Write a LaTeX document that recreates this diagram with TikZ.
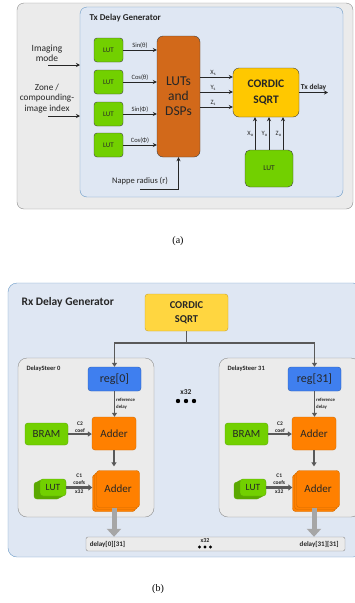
\documentclass[tikz,border=0pt]{standalone}
\usepackage{fontspec}
\setmainfont{Carlito}
\newfontfamily\capfont{Liberation Serif}
\usetikzlibrary{arrows, arrows.meta, shadows}

\definecolor{panelgray}{HTML}{EBEBEB}
\definecolor{edgegray}{HTML}{8C8C8C}
\definecolor{bluepanel}{HTML}{DFE7F3}
\definecolor{blueline}{HTML}{6A9AC6}
\definecolor{lutgreen}{HTML}{72D000}
\definecolor{lutdark}{HTML}{5AA800}
\definecolor{dspbrown}{HTML}{D2691A}
\definecolor{cordicyellow}{HTML}{FFC800}
\definecolor{cordiclight}{HTML}{FFD640}
\definecolor{cordicedge}{HTML}{C9A227}
\definecolor{regblue}{HTML}{3F7FEF}
\definecolor{regedge}{HTML}{2A5DB0}
\definecolor{addorange}{HTML}{FF8000}
\definecolor{addedge}{HTML}{D06A00}
\definecolor{arrgray}{HTML}{595959}

\begin{document}
\begin{tikzpicture}[x=1pt, y=-1pt,
    box/.style={draw=black!75, rounded corners=3pt, align=center, inner sep=0pt, text=black!85},
    lutbox/.style={box, fill=lutgreen, minimum width=29pt, minimum height=24pt, font=\fontsize{7}{8}\selectfont},
    lbl/.style={font=\fontsize{6.5}{7}\selectfont, text=black!85, inner sep=1pt},
    arr/.style={draw=black!85, line width=0.7pt, -{Stealth[length=4pt,width=4pt]}},
    blk/.style={rounded corners=3pt, align=center, inner sep=0pt, text=black!85},
    regbox/.style={blk, fill=regblue, draw=regedge, minimum width=53pt, minimum height=24pt, font=\fontsize{12}{13}\selectfont},
    addbox/.style={blk, fill=addorange, draw=addedge, minimum width=44pt, minimum height=33pt, font=\fontsize{11}{12}\selectfont},
    brambox/.style={blk, fill=lutgreen, draw=lutdark, minimum width=43pt, minimum height=22pt, font=\fontsize{11}{12}\selectfont},
    tiny/.style={font=\bfseries\fontsize{5.5}{7}\selectfont, text=black!85, align=center, inner sep=1pt},
    garr/.style={draw=arrgray, line width=1.4pt, -{Triangle[length=4pt,width=5pt]}},
    fatarr/.style={draw=arrgray, line width=3pt, -{Triangle[length=4pt,width=6pt]}},
    bigarr/.style={draw=black!35, line width=5pt, -{Triangle[length=8pt,width=14pt]}}]
\useasboundingbox (0,0) rectangle (355,603);

% (a) Tx delay generator
\draw[draw=edgegray, fill=panelgray, rounded corners=7pt] (17,3) rectangle (353,209);
\draw[draw=blueline, fill=bluepanel, rounded corners=7pt] (80,7) rectangle (343,197);
\node[anchor=west, font=\bfseries\fontsize{9}{10}\selectfont, text=black!85] (txtitle) at (86,18) {Tx Delay Generator};

\node[lutbox] (lut1) at (108.5,50) {LUT};
\node[lutbox] (lut2) at (108.5,82) {LUT};
\node[lutbox] (lut3) at (108.5,114) {LUT};
\node[lutbox] (lut4) at (108.5,145) {LUT};
\node[box, fill=dspbrown, minimum width=43pt, minimum height=121pt, rounded corners=6pt, font=\fontsize{13.5}{15}\selectfont] (dsp) at (178.5,96.5) {LUTs\\and\\DSPs};
\node[box, fill=cordicyellow, minimum width=66pt, minimum height=49pt, rounded corners=6pt, font=\bfseries\fontsize{11.5}{16.5}\selectfont] (cordic) at (266,92.5) {CORDIC\\SQRT};
\node[box, fill=lutgreen, minimum width=48pt, minimum height=37pt, rounded corners=5pt, font=\fontsize{7.5}{8}\selectfont] (lutb) at (269,168.5) {LUT};

\draw[arr] (lut1.east) -- (lut1.east -| dsp.west) node[midway, above, lbl] {Sin(θ)};
\draw[arr] (lut2.east) -- (lut2.east -| dsp.west) node[midway, above, lbl] {Cos(θ)};
\draw[arr] (lut3.east) -- (lut3.east -| dsp.west) node[midway, above, lbl] {Sin(Φ)};
\draw[arr] (lut4.east) -- (lut4.east -| dsp.west) node[midway, above, lbl] {Cos(Φ)};

\draw[arr] ([yshift=19.5pt]dsp.east) -- ([yshift=19.5pt]dsp.east -| cordic.west) node[pos=0.4, above, lbl] {X\textsubscript{s}};
\draw[arr] ([yshift=4.5pt]dsp.east) -- ([yshift=4.5pt]dsp.east -| cordic.west) node[pos=0.4, above, lbl] {Y\textsubscript{s}};
\draw[arr] ([yshift=-10.5pt]dsp.east) -- ([yshift=-10.5pt]dsp.east -| cordic.west) node[pos=0.4, above, lbl] {Z\textsubscript{s}};

\coordinate (txout) at (328,92.5);
\draw[arr] (cordic.east) -- (txout) node[midway, above, font=\bfseries\fontsize{7.5}{8}\selectfont, text=black!85, inner sep=1.5pt] {Tx delay};

\draw[arr] ([xshift=-14pt]lutb.north) -- ([xshift=-14pt]lutb.north |- cordic.south) node[midway, left, lbl] {X\textsubscript{o}};
\draw[arr] (lutb.north) -- (lutb.north |- cordic.south) node[midway, left, lbl] {Y\textsubscript{o}};
\draw[arr] ([xshift=14pt]lutb.north) -- ([xshift=14pt]lutb.north |- cordic.south) node[midway, left, lbl] {Z\textsubscript{o}};

\node[align=center, font=\fontsize{9.5}{10}\selectfont, text=black!85] (imgmode) at (47,53) {Imaging\\mode};
\coordinate (modein) at (48,65);
\draw[arr] (modein) -- ++(32,0);
\node[align=center, font=\fontsize{9.2}{10.5}\selectfont, text=black!85] (zone) at (47,98.5) {Zone /\\compounding-\\image index};
\coordinate (zonein) at (48,116);
\draw[arr] (zonein) -- ++(32,0);
\node[font=\fontsize{8.5}{9}\selectfont, text=black!85] (nappe) at (140,181) {Nappe radius (r)};
\coordinate (nappein) at (140,189);
\draw[arr] (nappein) -| (dsp.south);

\node[font=\capfont\fontsize{10}{12}\selectfont] (capa) at (178,241) {(a)};

% (b) Rx delay generator
\draw[draw=blueline, fill=bluepanel, rounded corners=9pt] (8,283) rectangle (362,557);
\node[anchor=west, font=\bfseries\fontsize{11.5}{13}\selectfont, text=black!85] (rxtitle) at (18,302) {Rx Delay Generator};
\node[blk, fill=cordiclight, draw=cordicedge, minimum width=83pt, minimum height=37pt, font=\bfseries\fontsize{10.5}{14}\selectfont] (cordic2) at (186.5,312.5) {CORDIC\\SQRT};

\draw[draw=edgegray, fill=panelgray, rounded corners=9pt] (18,358) rectangle (154,517);
\node[anchor=west, font=\bfseries\fontsize{6.5}{7}\selectfont, text=black!85] (ds0lbl) at (23,369) {DelaySteer 0};
\draw[draw=edgegray, fill=panelgray, rounded corners=9pt] (219,358) rectangle (360,517);
\node[anchor=west, font=\bfseries\fontsize{6.5}{7}\selectfont, text=black!85] (ds31lbl) at (224,369) {DelaySteer 31};

\node[regbox] (reg0) at (114.5,379) {reg[0]};
\node[addbox] (addA0) at (114,433.5) {Adder};
\node[brambox] (bram0) at (46.5,434) {BRAM};
\node[addbox, minimum width=43pt, minimum height=37pt, double copy shadow={shadow xshift=-2pt, shadow yshift=-2pt}] (addB0) at (118,489) {Adder};
\node[blk, fill=lutgreen, draw=lutdark, minimum width=26pt, minimum height=17pt, font=\fontsize{9.5}{10}\selectfont, double copy shadow={shadow xshift=-3pt, shadow yshift=-1.5pt, fill=lutdark}] (lutc0) at (53,487.5) {LUT};

\node[regbox] (reg31) at (314.5,379) {reg[31]};
\node[addbox] (addA31) at (314,433.5) {Adder};
\node[brambox] (bram31) at (246.5,434) {BRAM};
\node[addbox, minimum width=43pt, minimum height=37pt, double copy shadow={shadow xshift=-2pt, shadow yshift=-2pt}] (addB31) at (318,489) {Adder};
\node[blk, fill=lutgreen, draw=lutdark, minimum width=26pt, minimum height=17pt, font=\fontsize{9.5}{10}\selectfont, double copy shadow={shadow xshift=-3pt, shadow yshift=-1.5pt, fill=lutdark}] (lutc31) at (253,487.5) {LUT};

\coordinate (split) at (186.5,343);
\draw[draw=arrgray, line width=1.4pt] (cordic2.south) -- (split);
\draw[garr] (split) -| (reg0.north);
\draw[garr] (split) -| (reg31.north);

\draw[garr] (reg0.south) -- (reg0.south |- addA0.north) node[midway, right, tiny, align=left, font=\bfseries\fontsize{4.8}{7}\selectfont] {reference\\delay};
\draw[garr] (bram0.east) -- (bram0.east -| addA0.west) node[midway, above, tiny] {C2\\coef};
\draw[garr] (addA0.south) -- ([yshift=4pt]addA0.south |- addB0.north);
\draw[fatarr] (lutc0.east) -- ([xshift=-4pt]lutc0.east -| addB0.west) node[midway, above, tiny] {C1\\coefs} node[midway, below, tiny] {x32};

\draw[garr] (reg31.south) -- (reg31.south |- addA31.north) node[midway, right, tiny, align=left, font=\bfseries\fontsize{4.8}{7}\selectfont] {reference\\delay};
\draw[garr] (bram31.east) -- (bram31.east -| addA31.west) node[midway, above, tiny] {C2\\coef};
\draw[garr] (addA31.south) -- ([yshift=4pt]addA31.south |- addB31.north);
\draw[fatarr] (lutc31.east) -- ([xshift=-4pt]lutc31.east -| addB31.west) node[midway, above, tiny] {C1\\coefs} node[midway, below, tiny] {x32};

\node[font=\bfseries\fontsize{7.5}{8}\selectfont, text=black!85] (mid32) at (186,392) {x32};
\fill (178,401) circle (2.2pt) (186,401) circle (2.2pt) (194,401) circle (2.2pt);

\node[blk, fill=panelgray, draw=edgegray, rounded corners=2pt, minimum width=259pt, minimum height=14pt] (bar) at (215.5,544) {};
\node[anchor=west, font=\bfseries\fontsize{7}{8}\selectfont, text=black!85] (d0) at ([xshift=0.5pt]bar.west) {delay[0][31]};
\node[anchor=east, font=\bfseries\fontsize{7}{8}\selectfont, text=black!85] (d31) at ([xshift=-3pt]bar.east) {delay[31][31]};
\node[font=\bfseries\fontsize{6}{7}\selectfont, text=black!85, inner sep=0pt] (bar32) at (205,540.5) {x32};
\fill (199.5,547) circle (1.6pt) (205,547) circle (1.6pt) (210.5,547) circle (1.6pt);

\draw[bigarr] (addB0.south -| addA0.south) -- (addA0.south |- bar.north);
\draw[bigarr] (addB31.south -| addA31.south) -- (addA31.south |- bar.north);

\node[font=\capfont\fontsize{10}{12}\selectfont] (capb) at (158,589) {(b)};
\end{tikzpicture}
\end{document}
